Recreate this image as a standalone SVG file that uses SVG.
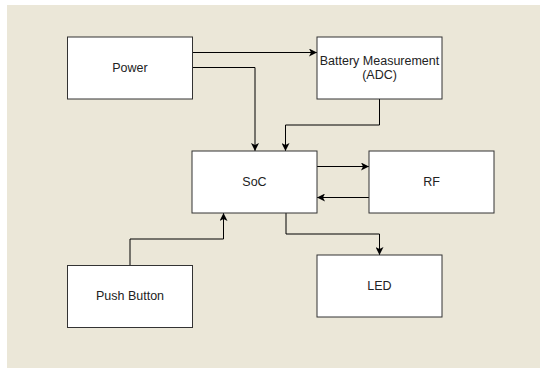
<svg xmlns="http://www.w3.org/2000/svg" width="540" height="368" viewBox="0 0 540 368">
<style>
.box{fill:#ffffff;stroke:#333333;stroke-width:1}
.lbl{font-family:"Liberation Sans",Arial,sans-serif;font-size:12.5px;fill:#222222;text-anchor:middle}
.edge{fill:none;stroke:#000000;stroke-width:1}
</style>
<defs>
<marker id="arr" viewBox="0 0 10 10" refX="10" refY="5" markerWidth="8" markerHeight="8" markerUnits="userSpaceOnUse" orient="auto">
<path d="M0,0 L10,5 L0,10 L2.5,5 Z" fill="#000000"/>
</marker>
</defs>
<rect x="7" y="5" width="533" height="363" fill="#EBE7D8"/>
<g id="connectors">
<path class="edge" d="M192.5,52.5 H317" marker-end="url(#arr)"/>
<path class="edge" d="M192.5,67.5 H255 V151" marker-end="url(#arr)"/>
<path class="edge" d="M379.5,99 V125 H285.5 V151" marker-end="url(#arr)"/>
<path class="edge" d="M317,166.5 H369" marker-end="url(#arr)"/>
<path class="edge" d="M369,197.5 H317" marker-end="url(#arr)"/>
<path class="edge" d="M286,213 V234 H379.5 V255" marker-end="url(#arr)"/>
<path class="edge" d="M130,265 V239 H223.5 V213" marker-end="url(#arr)"/>
</g>
<g id="power"><rect class="box" x="67.5" y="37" width="125" height="62"/><text class="lbl" x="130" y="72">Power</text></g>
<g id="battery"><rect class="box" x="317" y="37" width="125" height="62"/><text class="lbl" x="379.5" y="64.5">Battery Measurement</text><text class="lbl" x="379.5" y="78.5">(ADC)</text></g>
<g id="soc"><rect class="box" x="192" y="151" width="125" height="62"/><text class="lbl" x="254.5" y="186">SoC</text></g>
<g id="rf"><rect class="box" x="369" y="151" width="125" height="62"/><text class="lbl" x="431.5" y="186">RF</text></g>
<g id="pushbutton"><rect class="box" x="67.5" y="265.5" width="125" height="62"/><text class="lbl" x="130" y="300">Push Button</text></g>
<g id="led"><rect class="box" x="317" y="255" width="125" height="62"/><text class="lbl" x="379.5" y="289.5">LED</text></g>
</svg>
